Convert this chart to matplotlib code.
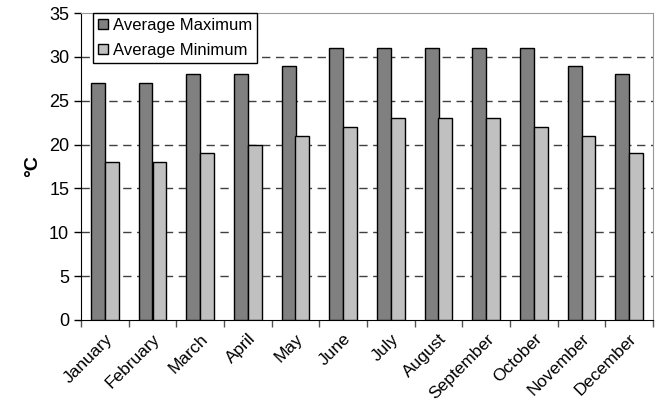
import matplotlib
matplotlib.use("Agg")
import matplotlib.pyplot as plt
import numpy as np

plt.rcParams['font.family'] = ['Liberation Sans', 'DejaVu Sans']

months = ["January", "February", "March", "April", "May", "June",
          "July", "August", "September", "October", "November", "December"]
avg_max = [27, 27, 28, 28, 29, 31, 31, 31, 31, 31, 29, 28]
avg_min = [18, 18, 19, 20, 21, 22, 23, 23, 23, 22, 21, 19]

fig = plt.figure(figsize=(6.59, 4.07), dpi=100)
ax = fig.add_axes([81/659, 1 - 320/407, (653 - 81)/659, (320 - 13)/407])

x = np.arange(len(months))
w = 0.29
ax.bar(x - w/2, avg_max, w, color='#808080', edgecolor='black', lw=1, label='Average Maximum', zorder=3)
ax.bar(x + w/2, avg_min, w, color='#c0c0c0', edgecolor='black', lw=1, label='Average Minimum', zorder=3)

ax.set_xlim(-0.5, len(months) - 0.5)
ax.set_ylim(0, 35)
ax.set_yticks(range(0, 36, 5))
ax.tick_params(axis='y', labelsize=13, direction='out', length=5, width=1)
ax.set_xticks(x)
ax.set_xticklabels(months, rotation=45, ha='right', rotation_mode='anchor', fontsize=12.5)
ax.tick_params(axis='x', length=0, pad=8)
# tick marks between categories
ax.set_xticks(np.arange(-0.5, len(months) + 0.5, 1), minor=True)
ax.tick_params(axis='x', which='minor', length=5, width=1, direction='out', color='#555555')

for yv in range(5, 35, 5):
    ax.axhline(yv, color='#404040', ls=(0, (6, 4)), lw=1, zorder=1)

ax.spines['top'].set_color('#999999')
ax.spines['right'].set_color('#999999')
ax.spines['left'].set_color('black')
ax.spines['bottom'].set_color('black')

ax.set_ylabel("°C", fontsize=14, fontweight='bold', labelpad=6)

leg = ax.legend(loc='upper left', bbox_to_anchor=(0.021, 1.0), fontsize=12, frameon=True,
                fancybox=False, edgecolor='black', framealpha=1, handlelength=0.6,
                handleheight=0.6, handletextpad=0.3, borderpad=0.3, labelspacing=0.6,
                borderaxespad=0)
leg.get_frame().set_linewidth(1)
leg.set_zorder(5)

fig.savefig("out.png", dpi=100)
